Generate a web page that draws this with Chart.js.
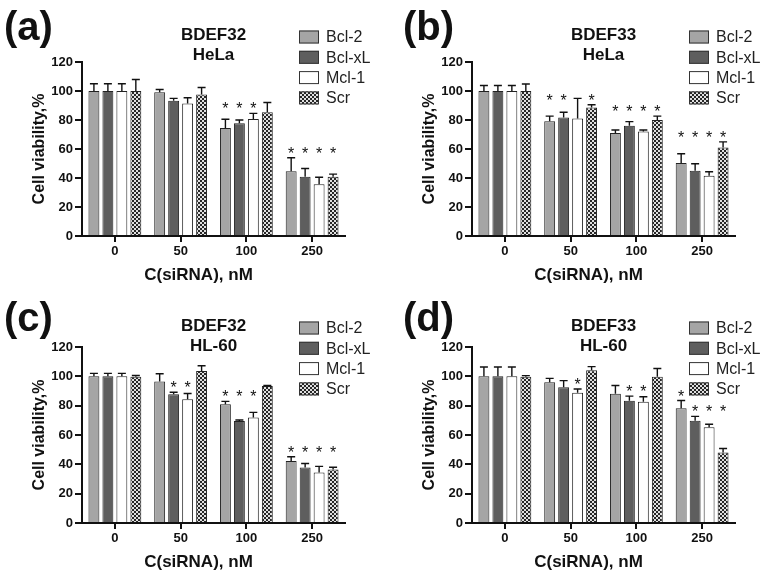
<!DOCTYPE html>
<html><head><meta charset="utf-8">
<script src="https://cdn.jsdelivr.net/npm/chart.js@4.4.1/dist/chart.umd.min.js"></script>
<style>
body{margin:0;background:#fff;width:765px;height:571px;position:relative;overflow:hidden}
.p{position:absolute;width:385px;height:286px}
</style></head><body>
<div class="p" style="left:0;top:0"><canvas id="ca"></canvas></div>
<div class="p" style="left:390px;top:0"><canvas id="cb"></canvas></div>
<div class="p" style="left:0;top:285px"><canvas id="cc"></canvas></div>
<div class="p" style="left:390px;top:285px"><canvas id="cd"></canvas></div>
<script>
// ---------- data ----------
const categories = ['0', '50', '100', '250'];
const seriesNames = ['Bcl-2', 'Bcl-xL', 'Mcl-1', 'Scr'];
const yTicks = [0, 20, 40, 60, 80, 100, 120];
const xTitle = 'C(siRNA), nM';
const yTitle = 'Cell viability,%';
// Sig arrays: 0 = no asterisk; 1 / 2 = asterisk (same number within a group = asterisks aligned together)

// (a) BDEF32, HeLa
const aBcl2 = [100, 99.2, 74.5, 44.6];   const aBcl2Err = [5, 1.8, 6, 9.4];   const aBcl2Sig = [0, 0, 1, 1];
const aBclxL = [100, 93.2, 77.7, 40.9];  const aBclxLErr = [5, 1.7, 2.3, 5.7]; const aBclxLSig = [0, 0, 1, 1];
const aMcl1 = [100, 91.4, 80.7, 35.7];   const aMcl1Err = [5, 3.9, 3.9, 4.8];  const aMcl1Sig = [0, 0, 1, 1];
const aScr = [100, 97.6, 85.3, 40.9];    const aScrErr = [7.9, 4.8, 6.8, 1.8]; const aScrSig = [0, 0, 0, 1];

// (b) BDEF33, HeLa
const bBcl2 = [100, 79.1, 71.1, 50.3];   const bBcl2Err = [3.8, 3.6, 2, 6.4];  const bBcl2Sig = [0, 1, 1, 1];
const bBclxL = [100, 81.8, 76.1, 45];    const bBclxLErr = [3.8, 3.5, 2.8, 4.8]; const bBclxLSig = [0, 1, 1, 1];
const bMcl1 = [100, 81.1, 72, 41.6];     const bMcl1Err = [3.8, 13.8, 1.1, 2.7]; const bMcl1Sig = [0, 0, 1, 1];
const bScr = [100, 88.7, 80, 61];        const bScrErr = [4.8, 1.8, 2.7, 3.9]; const bScrSig = [0, 1, 1, 1];

// (c) BDEF32, HL-60
const cBcl2 = [100, 96.4, 80.9, 42.2];   const cBcl2Err = [2, 5.4, 2, 3];      const cBcl2Sig = [0, 0, 1, 1];
const cBclxL = [100, 87.7, 69.6, 37.8];  const cBclxLErr = [2, 1.4, 0.6, 2.8]; const cBclxLSig = [0, 1, 1, 1];
const cMcl1 = [100, 84.3, 72, 34.5];     const cMcl1Err = [2, 4, 3.4, 4.1];    const cMcl1Sig = [0, 1, 1, 1];
const cScr = [99.8, 103.6, 93.4, 36.4];  const cScrErr = [0.8, 3.6, 0.4, 1.6]; const cScrSig = [0, 0, 0, 1];

// (d) BDEF33, HL-60
const dBcl2 = [100, 95.9, 88.2, 78.2];   const dBcl2Err = [6.4, 2.7, 5.5, 5.3]; const dBcl2Sig = [0, 0, 0, 2];
const dBclxL = [100, 92.5, 83.4, 69.8];  const dBclxLErr = [6.4, 4.6, 3.1, 2.9]; const dBclxLSig = [0, 0, 1, 1];
const dMcl1 = [100, 88.8, 82.7, 65.3];   const dMcl1Err = [6.4, 2.6, 3.4, 2.0]; const dMcl1Sig = [0, 1, 1, 1];
const dScr = [99.8, 104.1, 99.7, 48];    const dScrErr = [0.7, 2.5, 5.6, 2.8]; const dScrSig = [0, 0, 0, 1];

// ---------- drawing ----------
const FONT = "'Liberation Sans', Arial, sans-serif";
const INK = '#111';

function checker(ctx){
  const c = document.createElement('canvas'); c.width = 4; c.height = 4;
  const g = c.getContext('2d');
  g.fillStyle = '#e0e0e0'; g.fillRect(0,0,4,4);
  g.fillStyle = '#262626'; g.fillRect(0,0,2,2); g.fillRect(2,2,2,2);
  return ctx.createPattern(c, 'repeat');
}

const annot = {
  id: 'annot',
  afterDatasetsDraw(chart, args, o){
    const ctx = chart.ctx, ys = chart.scales.y;
    ctx.save();
    // error bars (upper only)
    ctx.strokeStyle = INK; ctx.lineWidth = 1.4;
    chart.data.datasets.forEach((ds, di) => {
      chart.getDatasetMeta(di).data.forEach((bar, i) => {
        const v = ds.data[i], e = ds.err[i];
        const y0 = ys.getPixelForValue(v), y1 = ys.getPixelForValue(v + e);
        ctx.beginPath();
        ctx.moveTo(bar.x, y0); ctx.lineTo(bar.x, y1);
        ctx.moveTo(bar.x - 4, y1); ctx.lineTo(bar.x + 4, y1);
        ctx.stroke();
      });
    });
    // asterisks, aligned per cluster within each category
    ctx.fillStyle = INK; ctx.font = '16px ' + FONT;
    ctx.textAlign = 'center'; ctx.textBaseline = 'alphabetic';
    categories.forEach((c, i) => {
      [1, 2].forEach(cl => {
        let L = -Infinity;
        chart.data.datasets.forEach(ds => { if (ds.sig[i] === cl) L = Math.max(L, ds.data[i] + ds.err[i]); });
        if (L === -Infinity) return;
        const py = ys.getPixelForValue(L);
        chart.data.datasets.forEach((ds, di) => {
          if (ds.sig[i] === cl) ctx.fillText('*', chart.getDatasetMeta(di).data[i].x, py + 1);
        });
      });
    });
    ctx.restore();
  },
  afterDraw(chart, args, o){
    const ctx = chart.ctx, ca = chart.chartArea;
    ctx.save();
    ctx.fillStyle = INK;
    // panel label
    ctx.font = 'bold 40px ' + FONT; ctx.textAlign = 'left'; ctx.textBaseline = 'middle';
    ctx.fillText(o.label, o.labelX, o.hy + 29);
    // title
    ctx.font = 'bold 17px ' + FONT; ctx.textAlign = 'center';
    const cx = (ca.left + ca.right) / 2;
    ctx.fillText(o.t1, cx, o.hy + 35);
    ctx.fillText(o.t2, cx, o.hy + 55);
    // x axis title
    ctx.font = 'bold 17px ' + FONT;
    ctx.fillText(xTitle, cx - 15, ca.bottom + 39);
    // legend
    ctx.font = '16px ' + FONT; ctx.textAlign = 'left';
    chart.data.datasets.forEach((ds, di) => {
      const y = o.hy + 37 + di * 20.3;
      ctx.fillStyle = ds.backgroundColor;
      ctx.fillRect(299, y - 6.5, 20, 13);
      ctx.strokeStyle = '#333'; ctx.lineWidth = 1;
      ctx.strokeRect(299.5, y - 6, 19, 12);
      ctx.fillStyle = '#222';
      ctx.fillText(ds.label, 326, y + 1);
    });
    ctx.restore();
  }
};

function makePanel(id, t1, t2, label, labelX, hy, plotBottom, vals, errs, sigs){
  const canvas = document.getElementById(id);
  const pctx = canvas.getContext('2d');
  const fills = ['#a5a5a5', '#5e5e5e', '#ffffff', checker(pctx)];
  const datasets = seriesNames.map((n, k) => ({
    label: n, data: vals[k], err: errs[k], sig: sigs[k],
    backgroundColor: fills[k], borderColor: '#222', borderWidth: 1,
    barPercentage: 0.78, categoryPercentage: 0.85
  }));
  const axisCommon = {
    border: {display: true, color: INK, width: 2},
    ticks: {color: INK, font: {family: FONT, size: 13, weight: 'bold'}}
  };
  new Chart(canvas, {
    type: 'bar',
    data: {labels: categories, datasets},
    plugins: [annot],
    options: {
      responsive: true, maintainAspectRatio: false, animation: false,
      layout: {padding: {left: 20, top: 62, right: 40, bottom: 0}},
      plugins: {legend: {display: false}, tooltip: {enabled: false}, annot: {t1, t2, label, labelX, hy}},
      scales: {
        x: {
          ...axisCommon,
          grid: {display: true, drawOnChartArea: false, drawTicks: true, tickLength: 6, color: INK, lineWidth: 2, offset: false},
          ticks: {...axisCommon.ticks, padding: 2},
          title: {display: false},
          afterFit(s){ s.height = 286 - plotBottom; }
        },
        y: {
          ...axisCommon,
          min: 0, max: 120,
          afterBuildTicks(s){ s.ticks = yTicks.map(v => ({value: v})); },
          grid: {display: true, drawOnChartArea: false, drawTicks: true, tickLength: 7, color: INK, lineWidth: 2},
          ticks: {...axisCommon.ticks, padding: 2},
          title: {display: true, text: yTitle, color: INK, font: {family: FONT, size: 16, weight: 'bold'}, padding: {top: 10, bottom: 0}},
          afterFit(s){ s.width = 62; }
        }
      }
    }
  });
}

makePanel('ca', 'BDEF32', 'HeLa', '(a)', 4, 0, 236,
  [aBcl2, aBclxL, aMcl1, aScr], [aBcl2Err, aBclxLErr, aMcl1Err, aScrErr], [aBcl2Sig, aBclxLSig, aMcl1Sig, aScrSig]);
makePanel('cb', 'BDEF33', 'HeLa', '(b)', 13, 0, 236,
  [bBcl2, bBclxL, bMcl1, bScr], [bBcl2Err, bBclxLErr, bMcl1Err, bScrErr], [bBcl2Sig, bBclxLSig, bMcl1Sig, bScrSig]);
makePanel('cc', 'BDEF32', 'HL-60', '(c)', 4, 6, 238,
  [cBcl2, cBclxL, cMcl1, cScr], [cBcl2Err, cBclxLErr, cMcl1Err, cScrErr], [cBcl2Sig, cBclxLSig, cMcl1Sig, cScrSig]);
makePanel('cd', 'BDEF33', 'HL-60', '(d)', 13, 6, 238,
  [dBcl2, dBclxL, dMcl1, dScr], [dBcl2Err, dBclxLErr, dMcl1Err, dScrErr], [dBcl2Sig, dBclxLSig, dMcl1Sig, dScrSig]);
</script>
</body></html>
